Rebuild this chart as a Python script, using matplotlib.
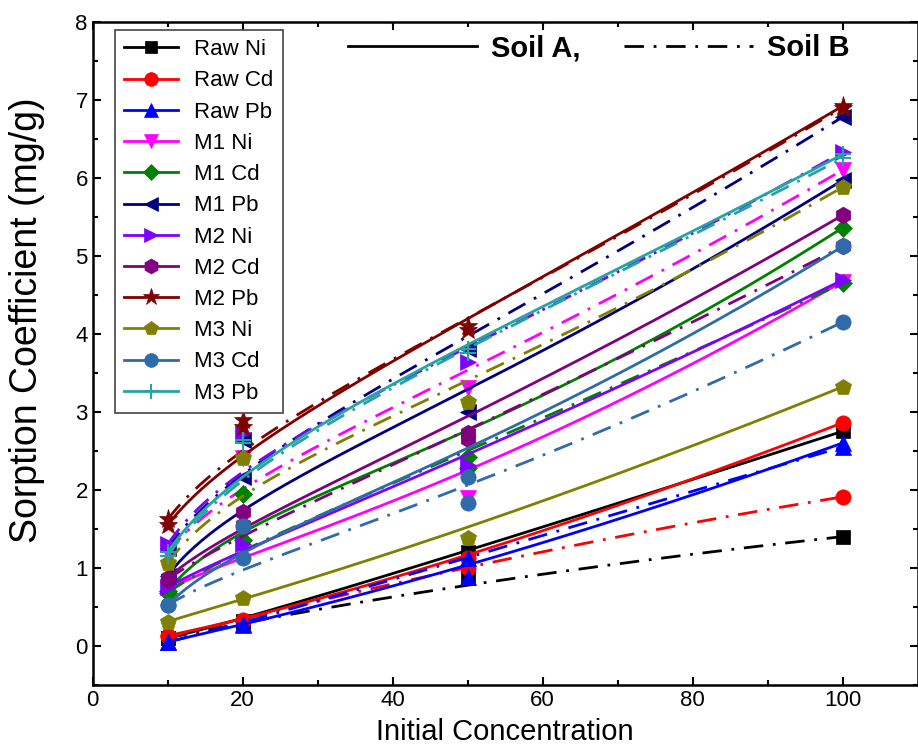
import numpy as np
import matplotlib
matplotlib.use("Agg")
import matplotlib.pyplot as plt
from matplotlib.lines import Line2D
from math import comb

plt.rcParams['font.family'] = ['Liberation Sans', 'DejaVu Sans']

conc = [10, 20, 50, 100]
names = ['Raw Ni', 'Raw Cd', 'Raw Pb', 'M1 Ni', 'M1 Cd', 'M1 Pb',
         'M2 Ni', 'M2 Cd', 'M2 Pb', 'M3 Ni', 'M3 Cd', 'M3 Pb']

# Soil A (solid)
soil_a = {
    'Raw Ni': [0.10, 0.32, 1.20, 2.75],
    'Raw Cd': [0.13, 0.33, 1.00, 2.86],
    'Raw Pb': [0.05, 0.28, 0.88, 2.60],
    'M1 Ni': [0.72, 1.25, 1.90, 4.67],
    'M1 Cd': [0.70, 1.94, 2.28, 5.36],
    'M1 Pb': [0.90, 2.17, 3.00, 5.97],
    'M2 Ni': [0.75, 1.30, 2.32, 4.69],
    'M2 Cd': [0.87, 1.72, 2.73, 5.52],
    'M2 Pb': [1.55, 2.80, 4.10, 6.92],
    'M3 Ni': [0.31, 0.61, 1.38, 3.32],
    'M3 Cd': [0.52, 1.53, 2.17, 5.12],
    'M3 Pb': [1.20, 2.64, 3.80, 6.30],
}
# Soil B (dash-dot)
soil_b = {
    'Raw Ni': [0.10, 0.30, 0.87, 1.40],
    'Raw Cd': [0.12, 0.32, 1.12, 1.91],
    'Raw Pb': [0.05, 0.27, 1.13, 2.55],
    'M1 Ni': [1.20, 2.41, 3.30, 6.10],
    'M1 Cd': [0.68, 1.36, 2.42, 4.65],
    'M1 Pb': [1.25, 2.64, 3.80, 6.78],
    'M2 Ni': [1.30, 2.73, 3.64, 6.33],
    'M2 Cd': [0.85, 1.55, 2.65, 5.12],
    'M2 Pb': [1.62, 2.90, 4.05, 6.90],
    'M3 Ni': [1.06, 2.41, 3.13, 5.88],
    'M3 Cd': [0.52, 1.13, 1.83, 4.15],
    'M3 Pb': [1.15, 2.60, 3.75, 6.25],
}

colors = ['black', '#FF0000', '#0000FF', '#FF00FF', '#008000', '#000080',
          '#8000FF', '#800080', '#800000', '#808000', '#2F6BA8', '#26A3A3']
markers = ['s', 'o', '^', 'v', 'D', '<', '>', 'h', '*', 'p', 'o', '+']
msizes = [10, 11, 11, 11, 9, 11, 11, 12, 14, 12, 11, 12]


def bezier(xs, ys, n=200):
    # Origin-style B-spline with the 4 points as control points
    t = np.linspace(0, 1, n)[:, None]
    k = len(xs) - 1
    B = np.hstack([comb(k, i) * t**i * (1 - t)**(k - i) for i in range(k + 1)])
    return B @ np.asarray(xs, float), B @ np.asarray(ys, float)


fig, ax = plt.subplots(figsize=(9.18, 7.55), dpi=100)
fig.subplots_adjust(left=0.101, right=0.9995, top=0.971, bottom=0.093)

dashdot = (0, (7, 3.5, 1, 3.5))
for name, c, m, ms in zip(names, colors, markers, msizes):
    for data, ls in ((soil_a, '-'), (soil_b, dashdot)):
        bx, by = bezier(conc, data[name])
        ax.plot(bx, by, color=c, lw=2.0, linestyle=ls)
        mew = 1.5 if m == '+' else 0.5
        ax.plot(conc, data[name], linestyle='none', marker=m, ms=ms,
                color=c, markeredgecolor=c, mew=mew)

ax.set_xlim(0, 110)
ax.set_ylim(-0.5, 8)
ax.set_xticks([0, 20, 40, 60, 80, 100])
ax.set_xticks(np.arange(10, 110, 20), minor=True)
ax.set_yticks(np.arange(0, 9, 1))
ax.set_yticks(np.arange(-0.5, 8.0, 1), minor=True)
ax.tick_params(which='both', direction='in', top=True, right=True, width=1.5,
               labelsize=16)
ax.tick_params(which='major', length=6)
ax.tick_params(which='minor', length=3.5)
for sp in ax.spines.values():
    sp.set_linewidth(1.8)

ax.set_xlabel('Initial Concentration', fontsize=21, labelpad=5)
ax.set_ylabel('Sorption Coefficient (mg/g)', fontsize=27)
ax.yaxis.set_label_coords(-0.058, 0.55)

handles = [Line2D([], [], color=c, marker=m, ms=ms * 0.9, lw=2.0,
                  markeredgewidth=1.5 if m == '+' else 0.5)
           for c, m, ms in zip(colors, markers, msizes)]
leg = ax.legend(handles, names, loc='upper left', bbox_to_anchor=(0.027, 0.988),
                borderaxespad=0, fontsize=16, handlelength=2.4,
                labelspacing=0.46, borderpad=0.42, handletextpad=0.75,
                fancybox=False, edgecolor='#444444', framealpha=1)
leg.get_frame().set_linewidth(1.2)
ax.add_artist(leg)

soil_handles = [Line2D([], [], color='black', lw=2.0, linestyle='-'),
                Line2D([], [], color='black', lw=2.0, linestyle=dashdot)]
ax.legend(soil_handles, ['Soil A,', 'Soil B'], loc='center right',
          bbox_to_anchor=(0.918, 0.96), borderaxespad=0, borderpad=0,
          ncol=2, frameon=False, handlelength=4.4, columnspacing=1.5,
          handletextpad=0.5, prop={'weight': 'bold', 'size': 21})

fig.savefig('out.png', dpi=100)
